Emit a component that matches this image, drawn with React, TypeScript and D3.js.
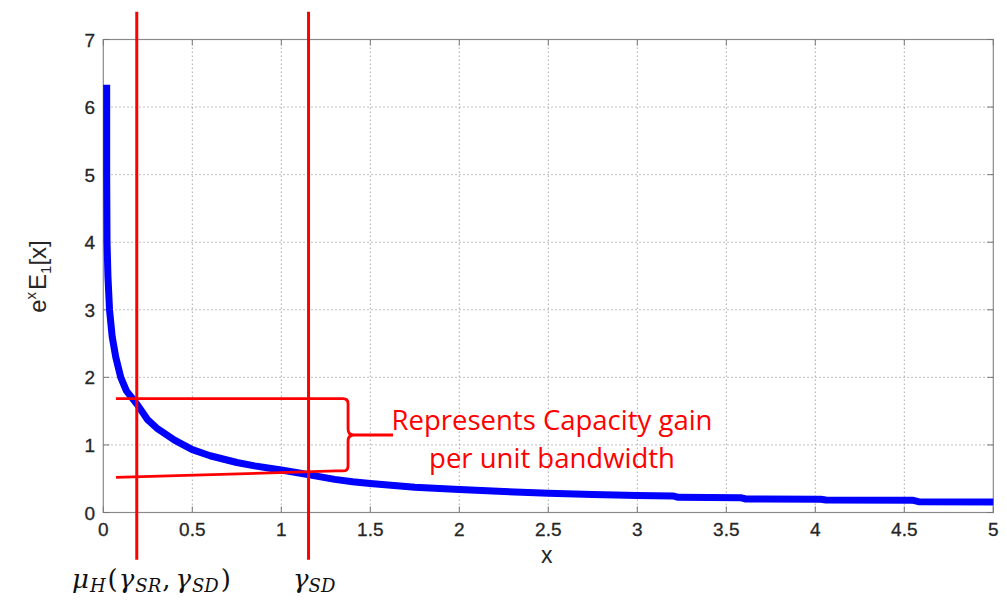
import React from "react";
import * as d3 from "d3";

// ---- data ----
const curveX = [0.019, 0.019, 0.021, 0.026, 0.035, 0.05, 0.07, 0.098, 0.13, 0.16, 0.19, 0.25, 0.3, 0.4, 0.5, 0.6, 0.75, 0.85, 1.0, 1.1, 1.15, 1.3, 1.4, 1.5, 1.75, 2.0, 2.25, 2.5, 2.75, 3.0, 3.2, 3.23, 3.58, 3.61, 4.03, 4.06, 4.55, 4.58, 5.0];
const curveY = [6.33, 5.0, 4.0, 3.5, 3.0, 2.6, 2.3, 2.0, 1.8, 1.7, 1.6, 1.37, 1.25, 1.07, 0.93, 0.84, 0.74, 0.69, 0.63, 0.585, 0.56, 0.49, 0.455, 0.43, 0.375, 0.34, 0.31, 0.285, 0.265, 0.25, 0.245, 0.225, 0.22, 0.2, 0.195, 0.185, 0.18, 0.16, 0.155];

const xTicks = [0, 0.5, 1, 1.5, 2, 2.5, 3, 3.5, 4, 4.5, 5];
const xTickLabels = ["0", "0.5", "1", "1.5", "2", "2.5", "3", "3.5", "4", "4.5", "5"];
const yTicks = [0, 1, 2, 3, 4, 5, 6, 7];
const yTickLabels = ["0", "1", "2", "3", "4", "5", "6", "7"];

// annotation positions in data units
const markerX = [0.188, 1.153];
const markerYTop = 7.41;
const markerYBottom = -0.7;
const gainTop = 1.685;
const gainBottom = 0.615;
const lowerLineStart = 0.52;
const lineStartX = 0.071;
const lowerJoinX = 1.31;
const braceX = 1.375;
const braceMid = 1.147;
const braceTipEnd = 1.628;

const W = 1007;
const H = 600;
const left = 103.3;
const right = 993.3;
const top = 39.5;
const bottom = 512.5;

export default function App() {
  const sx = d3.scaleLinear().domain([0, 5]).range([left, right]);
  const sy = d3.scaleLinear().domain([0, 7]).range([bottom, top]);
  const pts: [number, number][] = curveX.map((x, i) => [x, curveY[i]]);
  const line = d3
    .line<[number, number]>()
    .x((d) => sx(d[0]))
    .y((d) => sy(d[1]));

  const bx = sx(braceX);
  const t = sy(gainTop);
  const b = sy(gainBottom);
  const m = sy(braceMid);
  const r = 5;
  const bracePath = [
    `M${sx(lineStartX)},${t}`,
    `L${bx - r},${t}`,
    `Q${bx},${t} ${bx},${t + r}`,
    `L${bx},${m - 6}`,
    `Q${bx},${m} ${bx + 6},${m}`,
    `L${sx(braceTipEnd)},${m}`,
    `M${bx + 6},${m}`,
    `Q${bx},${m} ${bx},${m + 6}`,
    `L${bx},${b - r}`,
    `Q${bx},${b} ${bx - r},${b}`,
    `L${sx(lowerJoinX)},${b}`,
    `L${sx(lineStartX)},${sy(lowerLineStart)}`,
  ].join(" ");

  const tickFont = "'Liberation Sans', Arial, sans-serif";
  const serif = "'DejaVu Serif', 'Liberation Serif', serif";

  return (
    <svg
      width={W}
      height={H}
      style={{ position: "absolute", left: 0, top: 0, background: "#fff" }}
    >
      <rect x={0} y={0} width={W} height={H} fill="#fff" />
      {/* grid */}
      {xTicks.slice(1, -1).map((v) => (
        <line key={"gx" + v} x1={sx(v)} x2={sx(v)} y1={top} y2={bottom} stroke="#a8a8a8" strokeWidth={1} strokeDasharray="1.5,2.5" />
      ))}
      {yTicks.slice(1, -1).map((v) => (
        <line key={"gy" + v} x1={left} x2={right} y1={sy(v)} y2={sy(v)} stroke="#a8a8a8" strokeWidth={1} strokeDasharray="1.5,2.5" />
      ))}
      {/* box */}
      <rect x={left} y={top} width={right - left} height={bottom - top} fill="none" stroke="#8a8a8a" strokeWidth={1.2} />
      {/* ticks */}
      {xTicks.map((v) => (
        <g key={"tx" + v}>
          <line x1={sx(v)} x2={sx(v)} y1={bottom} y2={bottom - 6} stroke="#777" />
          <line x1={sx(v)} x2={sx(v)} y1={top} y2={top + 6} stroke="#777" />
        </g>
      ))}
      {yTicks.map((v) => (
        <g key={"ty" + v}>
          <line x1={left} x2={left + 6} y1={sy(v)} y2={sy(v)} stroke="#777" />
          <line x1={right} x2={right - 6} y1={sy(v)} y2={sy(v)} stroke="#777" />
        </g>
      ))}
      {/* tick labels */}
      {xTicks.map((v, i) => (
        <text key={"lx" + v} x={sx(v)} y={536} textAnchor="middle" fontFamily={tickFont} fontSize={19} fill="#262626" stroke="#262626" strokeWidth={0.3}>
          {xTickLabels[i]}
        </text>
      ))}
      {yTicks.map((v, i) => (
        <text key={"ly" + v} x={95} y={sy(v) + 7} textAnchor="end" fontFamily={tickFont} fontSize={19} fill="#262626" stroke="#262626" strokeWidth={0.3}>
          {yTickLabels[i]}
        </text>
      ))}
      {/* axis labels */}
      <text x={546.7} y={563} textAnchor="middle" fontFamily={tickFont} fontSize={23} fill="#262626">
        x
      </text>
      <text transform="translate(46,276.5) rotate(-90)" textAnchor="middle" fontFamily={tickFont} fontSize={24} fill="#262626">
        <tspan>e</tspan>
        <tspan dy={-10} fontSize={15}>x</tspan>
        <tspan dy={10} dx={2}>E</tspan>
        <tspan dy={5} fontSize={15}>1</tspan>
        <tspan dy={-5}>[x]</tspan>
      </text>

      {/* curve */}
      <path d={line(pts) || ""} fill="none" stroke="#0000ff" strokeWidth={7} strokeLinejoin="round" />

      {/* red annotations */}
      {markerX.map((v) => (
        <line key={"mx" + v} x1={sx(v)} x2={sx(v)} y1={sy(markerYTop)} y2={sy(markerYBottom)} stroke="#ff0000" strokeWidth={3} />
      ))}
      <path d={bracePath} fill="none" stroke="#ff0000" strokeWidth={2.8} strokeLinejoin="round" />
      <text x={552} y={430} textAnchor="middle" fontFamily="'Open Sans', sans-serif" fontSize={27.5} fill="#ff0000">
        Represents Capacity gain
      </text>
      <text x={552} y={468} textAnchor="middle" fontFamily="'Open Sans', sans-serif" fontSize={27.5} fill="#ff0000">
        per unit bandwidth
      </text>

      {/* bottom labels */}
      <text x={72} y={588} fontFamily={serif} fontSize={26} fill="#111">
        <tspan fontStyle="italic">μ</tspan>
        <tspan fontStyle="italic" fontSize={18} dy={4} dx={1}>H</tspan>
        <tspan dy={-4} dx={2}>(</tspan>
        <tspan fontStyle="italic" dx={1}>γ</tspan>
        <tspan fontStyle="italic" fontSize={18} dy={4} dx={1}>SR</tspan>
        <tspan dy={-4} dx={1}>,</tspan>
        <tspan fontStyle="italic" dx={5}>γ</tspan>
        <tspan fontStyle="italic" fontSize={18} dy={4} dx={1}>SD</tspan>
        <tspan dy={-4} dx={2}>)</tspan>
      </text>
      <text x={293} y={588} fontFamily={serif} fontSize={26} fill="#111">
        <tspan fontStyle="italic">γ</tspan>
        <tspan fontStyle="italic" fontSize={18} dy={4}>SD</tspan>
      </text>
    </svg>
  );
}
